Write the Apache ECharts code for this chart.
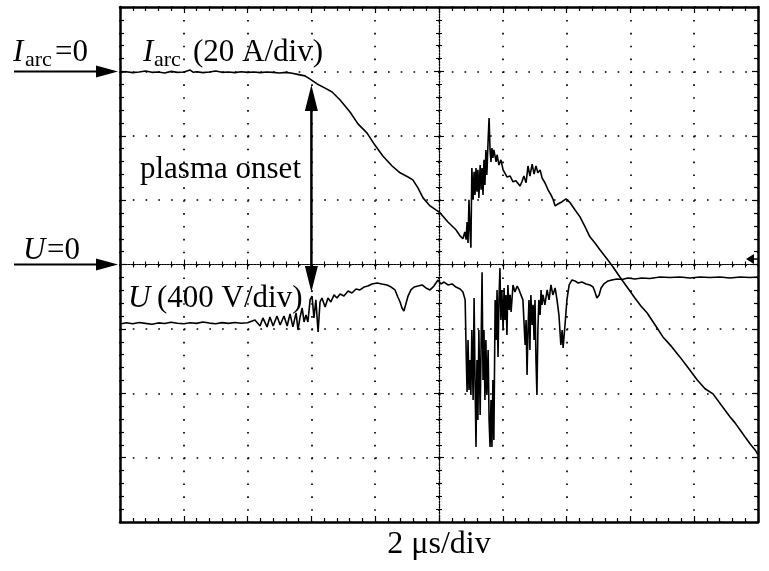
<!DOCTYPE html>
<html><head><meta charset="utf-8">
<script src="https://cdn.jsdelivr.net/npm/echarts@6/dist/echarts.min.js"></script>
<style>html,body{margin:0;padding:0;background:#fff}#c{width:769px;height:571px}</style>
</head><body><div id="c"></div>
<script>
// ---- data (time in microseconds, current in A, voltage in V) ----
const timeRange = [-10, 10];      // 2 us/div, 10 divisions
const timeStep = 2;
const voltageRange = [-1600, 1600]; // 400 V/div, 8 divisions
const voltageStep = 400;
const currentRange = [-140, 20];  // 20 A/div, 8 divisions
const currentStep = 20;

const iarcSamples = [
 [-10,-0.3],[-9.8,-0.1],[-9.6,-0.4],[-9.4,-0.2],[-9.2,0.1],[-9.0,-0.3],[-8.8,-0.2],[-8.6,-0.5],[-8.4,0.0],[-8.2,-0.3],[-8.0,-0.2],
 [-7.8,0.4],[-7.7,-0.3],[-7.6,-0.1],[-7.4,-0.4],[-7.2,-0.2],[-7.0,0.1],[-6.8,-0.3],[-6.6,-0.2],[-6.4,-0.4],[-6.2,-0.1],[-6.0,-0.3],
 [-5.8,-0.2],[-5.6,-0.4],[-5.4,-0.2],[-5.2,-0.3],[-5.0,-0.5],[-4.8,-0.3],[-4.6,-0.6],[-4.4,-1.0],[-4.2,-1.4],
 [-4.04,-2.4],[-3.82,-3.9],[-3.57,-5.2],[-3.35,-6.4],[-3.10,-8.9],[-2.79,-12.6],[-2.54,-16.3],[-2.26,-19.1],[-2.01,-22.9],
 [-1.76,-26.3],[-1.47,-29.4],[-1.22,-31.5],[-0.97,-32.8],[-0.82,-33.7],[-0.66,-36.2],[-0.50,-39.3],[-0.28,-41.8],[0.03,-43.9],
 [0.28,-46.8],[0.53,-49.2],[0.66,-51.1],[0.75,-52.0],
 [0.81,-49.9],[0.85,-52.3],[0.88,-46.8],[0.91,-53.3],[0.94,-39.9],[0.97,-49.2],[1.00,-54.8],[1.03,-30.0],[1.07,-39.9],[1.10,-31.2],
 [1.13,-38.4],[1.16,-30.0],[1.19,-37.4],[1.22,-30.6],[1.25,-39.3],[1.29,-29.1],[1.32,-36.8],[1.35,-30.0],[1.38,-38.4],[1.41,-27.5],
 [1.44,-35.3],[1.47,-24.4],[1.50,-32.2],[1.54,-21.3],[1.57,-14.5],[1.60,-24.4],[1.63,-28.1],[1.66,-23.8],[1.69,-26.9],[1.72,-24.4],
 [1.79,-28.1],[1.82,-25.9],[1.88,-29.1],[1.94,-27.5],[2.01,-30.6],[2.07,-30.0],[2.13,-32.8],[2.23,-32.5],[2.32,-34.3],[2.41,-34.0],
 [2.54,-35.6],[2.60,-34.3],[2.66,-32.5],[2.73,-34.6],[2.79,-29.4],[2.85,-32.5],[2.92,-28.8],[2.98,-31.9],[3.04,-29.4],[3.10,-31.5],
 [3.17,-30.6],[3.23,-33.1],[3.32,-34.6],[3.42,-36.8],[3.51,-38.4],[3.57,-39.6],[3.64,-41.8],[3.73,-41.2],[3.86,-40.5],[3.98,-39.6],
 [4.11,-40.8],[4.26,-43.0],[4.42,-45.2],[4.58,-48.3],[4.73,-51.4],[4.89,-53.3],[5.05,-55.5],[5.27,-58.3],[5.45,-60.7],[5.67,-63.9],
 [5.89,-66.9],[6.14,-70.4],[6.33,-72.9],[6.52,-75.0],[6.77,-78.7],[7.02,-82.5],[7.30,-85.6],[7.55,-88.7],[7.81,-92.1],[8.09,-95.8],
 [8.34,-98.6],[8.59,-100.2],[8.84,-103.6],[9.12,-107.3],[9.28,-109.2],[9.44,-111.4],[9.59,-113.5],[9.75,-115.7],[9.91,-117.6],[10.00,-119.1]
];

const voltageSamples = [
 [-10,-370],[-9.8,-362],[-9.6,-368],[-9.4,-360],[-9.2,-366],[-9.0,-371],[-8.8,-363],[-8.6,-367],[-8.4,-359],[-8.2,-365],[-8.0,-368],
 [-7.8,-362],[-7.6,-366],[-7.4,-357],[-7.2,-364],[-7.0,-368],[-6.8,-361],[-6.6,-366],[-6.4,-360],[-6.2,-365],[-6.0,-362],
 [-5.77,-345],[-5.61,-382],[-5.52,-332],[-5.39,-388],[-5.30,-326],[-5.20,-382],[-5.08,-320],[-4.98,-376],[-4.86,-320],[-4.76,-382],
 [-4.67,-307],[-4.58,-388],[-4.48,-301],[-4.42,-407],[-4.36,-332],[-4.29,-270],[-4.23,-357],[-4.17,-314],[-4.11,-357],[-4.04,-220],
 [-3.98,-196],[-3.92,-332],[-3.86,-220],[-3.79,-419],[-3.73,-233],[-3.67,-208],[-3.57,-264],[-3.48,-208],[-3.39,-233],[-3.29,-189],
 [-3.20,-208],[-3.10,-183],[-2.98,-196],[-2.85,-165],[-2.73,-177],[-2.60,-152],[-2.48,-158],[-2.35,-140],[-2.23,-134],[-2.10,-121],
 [-1.94,-115],[-1.79,-121],[-1.63,-127],[-1.50,-140],[-1.38,-158],[-1.29,-202],[-1.22,-233],[-1.16,-270],[-1.10,-289],[-1.03,-239],
 [-0.97,-196],[-0.88,-158],[-0.78,-140],[-0.66,-134],[-0.53,-127],[-0.41,-146],[-0.28,-158],[-0.16,-134],[-0.03,-96],[0.06,-121],
 [0.16,-109],[0.28,-127],[0.41,-121],[0.53,-140],[0.66,-152],[0.75,-171],[0.82,-220],
 [0.85,-531],[0.88,-792],[0.91,-469],[0.94,-780],[0.97,-593],[1.00,-811],[1.03,-407],[1.07,-842],[1.10,-208],[1.13,-718],
 [1.16,-1134],[1.19,-593],[1.22,-966],[1.25,-407],[1.29,-935],[1.32,-500],[1.35,-48],[1.38,-718],[1.41,-407],[1.44,-842],
 [1.47,-469],[1.50,-811],[1.54,-531],[1.57,-966],[1.60,-1134],[1.63,-842],[1.66,-1134],[1.69,-718],[1.72,-1090],[1.76,-220],
 [1.79,-469],[1.82,-158],[1.85,-575],[1.88,-220],[1.91,-22],[1.94,-345],[1.97,-158],[2.01,-407],[2.04,-146],[2.07,-345],
 [2.10,-189],[2.13,-438],[2.16,-127],[2.20,-283],[2.23,-189],[2.26,-295],[2.32,-127],[2.38,-171],[2.45,-134],[2.51,-158],
 [2.57,-146],[2.63,-220],[2.70,-500],[2.73,-345],[2.76,-686],[2.79,-407],[2.82,-220],[2.85,-531],[2.88,-189],[2.92,-376],
 [2.95,-251],[2.98,-469],[3.01,-220],[3.04,-593],[3.07,-811],[3.10,-407],[3.13,-220],[3.17,-314],[3.20,-158],[3.23,-251],
 [3.26,-189],[3.32,-251],[3.39,-158],[3.45,-220],[3.51,-127],[3.57,-189],[3.64,-146],[3.70,-220],[3.76,-314],[3.82,-500],
 [3.86,-407],[3.89,-519],[3.95,-376],[4.01,-220],[4.08,-127],[4.17,-96],[4.26,-102],[4.36,-115],[4.48,-109],[4.61,-121],
 [4.73,-127],[4.83,-140],[4.89,-171],[4.95,-208],[5.02,-189],[5.08,-146],[5.17,-121],[5.30,-102],[5.42,-96],[5.58,-90],
 [5.74,-93],[5.92,-84],[6.14,-90],[6.36,-84],[6.61,-87],[6.93,-78],[7.24,-81],[7.55,-78],[7.87,-84],[8.18,-78],
 [8.50,-81],[8.81,-78],[9.12,-84],[9.44,-78],[9.75,-81],[10.00,-78]
];

// annotation anchors (data units)
const onsetTime = -4.0;
const onsetCurrentTip = -4.2;   // upper arrow tip, on Iarc scale
const onsetVoltageTip = -171;   // lower arrow tip, on U scale
const triggerLevel = 34;        // small marker on the right, U scale

// ---- chart ----
const K = '#000';
const FONT = 'Liberation Serif';
const grid = {left:120, top:7, width:638, height:515};
const chart = echarts.init(document.getElementById('c'));

const tickStyle = {show:true, inside:true, length:6, lineStyle:{color:K, width:1.2}};
const minorStyle = {show:true, splitNumber:5, length:4, lineStyle:{color:K, width:1.2}};

function borderX(pos, split){
  return {type:'value', min:timeRange[0], max:timeRange[1], interval:timeStep, position:pos,
    axisLine:{show:true, onZero:false, lineStyle:{color:K, width:2.5}},
    axisTick:tickStyle, minorTick:minorStyle,
    axisLabel:{show:false},
    splitLine:{show:split, lineStyle:{color:K, width:1.7, type:[1.7, grid.height/40-1.7]}}};
}
function centerX(pos){
  return {type:'value', min:timeRange[0], max:timeRange[1], interval:timeStep, position:pos,
    axisLine:{show:true, onZero:true, onZeroAxisIndex:0, lineStyle:{color:K, width:1.2, type:[1.4,1.4]}},
    axisTick:{show:true, inside:true, length:5, lineStyle:{color:K, width:1.1}},
    minorTick:{show:true, splitNumber:5, length:3, lineStyle:{color:K, width:1.1}},
    axisLabel:{show:false}, splitLine:{show:false}};
}
function borderY(pos, range, step, split){
  return {type:'value', min:range[0], max:range[1], interval:step, position:pos,
    axisLine:{show:true, onZero:false, lineStyle:{color:K, width:2.5}},
    axisTick:tickStyle, minorTick:minorStyle,
    axisLabel:{show:false},
    splitLine:{show:split, lineStyle:{color:K, width:1.7, type:[1.7, grid.width/50-1.7]}}};
}
function centerY(pos){
  return {type:'value', min:voltageRange[0], max:voltageRange[1], interval:voltageStep, position:pos,
    axisLine:{show:true, onZero:true, onZeroAxisIndex:0, lineStyle:{color:K, width:1.2, type:[1.4,1.4]}},
    axisTick:{show:true, inside:true, length:5, lineStyle:{color:K, width:1.1}},
    minorTick:{show:true, splitNumber:5, length:3, lineStyle:{color:K, width:1.1}},
    axisLabel:{show:false}, splitLine:{show:false}};
}

chart.setOption({
  animation:false,
  backgroundColor:'#fff',
  grid:{left:grid.left, top:grid.top, width:grid.width, height:grid.height, containLabel:false},
  xAxis:[borderX('bottom', true), borderX('top', false), centerX('bottom'), centerX('top')],
  yAxis:[borderY('left', voltageRange, voltageStep, true), borderY('right', currentRange, currentStep, false), centerY('left'), centerY('right')],
  series:[
    {type:'line', name:'Iarc', xAxisIndex:0, yAxisIndex:1, data:iarcSamples, showSymbol:false, silent:true, z:5,
     lineStyle:{color:K, width:1.6}},
    {type:'line', name:'U', xAxisIndex:0, yAxisIndex:0, data:voltageSamples, showSymbol:false, silent:true, z:5,
     lineStyle:{color:K, width:1.6}}
  ]
});

// ---- annotations ----
const px = (t) => chart.convertToPixel({xAxisIndex:0}, t);
const pyU = (v) => chart.convertToPixel({yAxisIndex:0}, v);
const pyI = (v) => chart.convertToPixel({yAxisIndex:1}, v);
const gl = grid.left;

function txt(s, x, baseline, size, italic, align){
  return {type:'text', z:20, style:{text:s, x:x, y:baseline - 0.3375*size, fill:K,
    font:(italic?'italic ':'') + size + 'px "' + FONT + '"',
    align:align||'left', textAlign:align||'left', verticalAlign:'middle', textVerticalAlign:'middle'}};
}
function leftArrow(y){
  return [
    {type:'line', z:20, shape:{x1:14, y1:y, x2:gl-18, y2:y}, style:{stroke:K, lineWidth:2}},
    {type:'polygon', z:20, shape:{points:[[gl-2,y],[gl-24,y-6],[gl-24,y+6]]}, style:{fill:K}}
  ];
}
const yI0 = pyI(0), yU0 = pyU(0);
const ox = px(onsetTime), oTop = pyI(onsetCurrentTip), oBot = pyU(onsetVoltageTip);
const ty = pyU(triggerLevel), xr = grid.left + grid.width;

chart.setOption({graphic:{elements:[
  ...leftArrow(yI0), ...leftArrow(yU0),
  txt('I', 13, yI0-8, 31, true), txt('arc', 25, yI0-4, 22, false), txt('=0', 55, yI0-8, 31, false),
  txt('I', 143, yI0-8, 31, true), txt('arc', 154, yI0-4, 22, false), txt('(20 A/div)', 193, yI0-8, 31, false),
  txt('U', 23, yU0-3, 31, true), txt('=0', 47, yU0-3, 31, false),
  txt('U', 128, 309, 31, true), txt('(400 V/div)', 157, 309, 31, false),
  txt('plasma onset', 140, 180, 31, false),
  txt('2 \u03bcs/div', grid.left + grid.width/2, 555, 32, false, 'center'),
  // plasma onset double arrow
  {type:'line', z:20, shape:{x1:ox, y1:oTop+20, x2:ox, y2:oBot-20}, style:{stroke:K, lineWidth:2.5}},
  {type:'polygon', z:20, shape:{points:[[ox,oTop],[ox-6.5,oTop+26],[ox+6.5,oTop+26]]}, style:{fill:K}},
  {type:'polygon', z:20, shape:{points:[[ox,oBot],[ox-6.5,oBot-26],[ox+6.5,oBot-26]]}, style:{fill:K}},
  // trigger marker
  {type:'polygon', z:20, shape:{points:[[xr-12,ty],[xr-4,ty-5],[xr-4,ty+5]]}, style:{fill:K}},
  {type:'line', z:20, shape:{x1:xr-5, y1:ty, x2:xr, y2:ty}, style:{stroke:K, lineWidth:1.5}}
]}});
</script>
</body></html>
